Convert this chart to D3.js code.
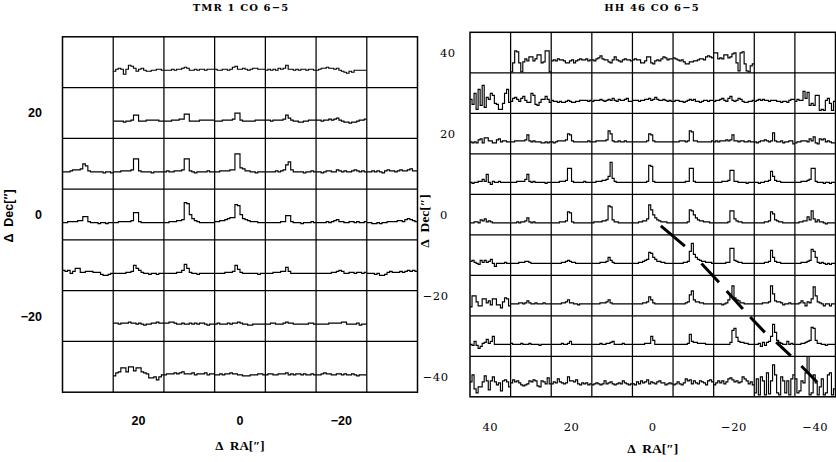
<!DOCTYPE html>
<html><head><meta charset="utf-8">
<script src="https://cdn.jsdelivr.net/npm/d3@7"></script>
<style>body{margin:0;background:#fff}svg{display:block}</style>
</head><body>
<script>
// ---------------- TMR 1 CO 6-5 ----------------
const tmrTitle = "TMR 1 CO 6\u22125";
const tmrRA = [30,20,10,0,-10,-20,-30];
const tmrDec = [30,20,10,0,-10,-20,-30];
const tmrRATicks = [20,0,-20];
const tmrDecTicks = [20,0,-20];
const tmrRow30 = [null,
 [-1,1,2,1,-4,1,5,4,2,-1,1,2,0,-1,-1,0,0,1,1,0],
 [0,0,0,1,0,1,1,2,3,2,0,0,1,0,1,1,0,1,1,1],
 [1,0,0,1,1,0,1,3,4,1,1,2,1,0,1,2,2,1,1,1],
 [0,1,0,1,0,2,1,2,5,1,1,0,1,0,1,1,0,1,1,0],
 [0,1,2,2,3,2,2,1,2,0,-1,-2,-3,-1,-2,0,0,0,0,0],
 null];
const tmrRow20 = [null,
 [0,0,0,0,-1,0,0,1,6,6,0,0,0,1,1,1,1,1,0,0],
 [0,0,0,1,1,1,2,2,7,7,0,0,0,0,1,1,1,1,1,1],
 [0,0,0,1,1,1,1,2,8,8,1,0,0,0,0,0,1,1,1,1],
 [1,1,0,1,1,1,1,2,6,3,1,0,0,-1,-1,0,0,1,1,1],
 [1,1,0,1,1,2,1,2,3,1,0,-1,-1,-2,-1,-1,0,1,1,2],
 null];
const tmrRow10 = [
 [0,0,0,1,2,2,2,3,8,6,1,0,0,0,0,0,-1,0,0,-1],
 [0,0,0,1,1,1,1,2,13,13,1,0,0,0,0,-1,0,0,0,0],
 [0,1,0,0,1,1,1,2,13,13,1,0,-1,0,0,0,0,1,0,0],
 [0,0,1,1,1,1,2,2,18,18,4,3,1,1,0,0,-1,0,0,0],
 [0,0,0,0,1,0,1,2,7,10,2,0,0,0,0,-1,0,0,1,0],
 [0,0,-1,0,1,1,0,0,2,1,0,1,0,0,1,2,1,0,1,0],
 [0,0,1,0,1,0,-1,1,2,1,1,0,1,2,1,1,2,3,1,1]];
const tmrRow0 = [
 [0,0,1,1,1,1,2,2,6,6,1,0,0,0,-1,0,0,-1,0,0],
 [0,0,1,1,1,1,1,2,10,10,1,0,0,0,0,0,0,0,0,0],
 [0,0,1,1,1,2,2,3,20,19,8,4,2,1,0,0,0,0,0,0],
 [1,1,2,2,3,4,5,5,18,17,8,4,3,2,1,1,1,0,0,0],
 [0,0,0,0,0,0,1,1,7,7,1,0,0,0,-1,0,0,0,1,0],
 [0,0,0,0,1,0,1,2,3,1,1,0,0,1,1,0,1,0,0,1],
 [0,0,-1,-1,0,-1,0,0,1,1,1,1,2,2,1,3,4,3,2,1]];
const tmrRowM10 = [
 [3,2,3,0,2,5,5,1,1,2,2,2,1,1,1,-1,-2,-2,-1,0],
 [0,0,0,0,0,1,1,2,8,5,3,1,0,0,-1,0,0,-1,0,0],
 [0,0,0,0,0,1,1,3,9,5,1,0,0,-1,0,0,0,0,0,0],
 [0,0,0,0,1,1,1,2,8,4,1,0,0,0,0,0,0,-1,0,0],
 [0,0,0,1,1,1,2,2,6,2,0,0,0,0,0,0,0,0,0,0],
 [0,0,0,0,0,0,1,1,2,3,2,0,0,1,1,0,1,1,0,1],
 [0,0,0,-1,0,-2,-2,-1,1,2,1,1,1,2,1,2,3,2,3,2]];
const tmrRowM20 = [null,
 [1,1,0,1,1,1,2,1,1,0,1,0,-1,0,0,1,1,2,1,1],
 [1,1,2,2,1,0,0,1,0,0,1,0,1,0,1,1,0,-1,0,0],
 [0,1,0,0,0,1,0,1,1,2,1,0,0,-1,-1,0,0,0,0,0],
 [0,0,1,1,0,0,0,1,2,1,1,0,0,0,0,0,0,1,1,0],
 [0,0,0,0,0,1,1,1,1,1,2,2,0,0,0,0,1,-1,0,0],
 null];
const tmrRowM30 = [null,
 [-1,2,3,7,7,3,8,8,4,7,7,3,2,1,-3,-3,-2,-5,-2,0],
 [0,1,1,1,2,1,2,3,1,1,1,2,0,1,1,1,2,0,1,1],
 [0,0,1,0,1,1,2,1,1,0,0,-1,-1,-1,0,0,0,1,1,0],
 [0,1,1,0,0,1,1,1,2,0,1,0,1,1,0,1,0,0,1,0],
 [0,0,1,2,1,1,0,0,1,1,0,1,0,0,1,0,-1,0,0,0],
 null];

// ---------------- HH 46 CO 6-5 ----------------
const hhTitle = "HH 46 CO 6\u22125";
const hhRA = [40,30,20,10,0,-10,-20,-30,-40];
const hhDec = [40,30,20,10,0,-10,-20,-30,-40];
const hhRATicks = [40,20,0,-20,-40];
const hhDecTicks = [40,20,0,-20,-40];
const hhRow40 = [null,
 [-11,-2,10,9,-2,-11,-1,2,0,4,4,0,2,6,6,-2,-1,10,10,-11],
 [0,1,0,2,1,1,0,-2,-2,0,1,-2,0,1,2,1,1,2,0,1],
 [1,0,2,3,5,2,1,1,-1,-2,1,4,1,0,-1,1,2,1,1,0],
 [1,2,1,1,-2,-2,0,4,4,-2,-3,0,1,0,2,4,3,1,2,2],
 [3,2,1,0,1,-1,-3,-3,-1,-1,0,0,1,2,2,1,4,5,4,3],
 [8,8,2,3,2,6,6,3,4,7,8,-2,-10,8,9,-3,-10,-11,-5,-3],
 null, null];
const hhRow30 = [
 [2,-3,8,-8,12,-4,16,-6,4,2,8,6,-2,-3,-8,-8,-2,8,12,-1],
 [0,3,4,2,0,3,5,1,-1,-1,8,6,-3,-4,-1,2,2,5,2,-1],
 [1,0,0,-1,0,-1,-1,0,1,0,-1,-1,0,0,1,1,1,1,0,1],
 [0,1,1,1,2,1,0,1,2,1,3,1,0,2,1,1,2,3,0,0],
 [1,1,1,0,1,1,2,2,3,1,2,4,2,1,1,2,1,0,1,0],
 [0,1,1,0,0,-1,0,1,2,1,2,0,0,-1,0,1,1,0,1,1],
 [0,1,1,2,3,1,0,3,5,1,0,1,3,2,0,-1,-1,0,0,1],
 [0,1,2,1,2,1,1,0,1,1,1,0,0,-1,0,0,-1,1,2,2],
 [0,2,1,1,10,3,9,-4,-2,-4,6,6,-9,-8,-9,1,3,-2,-9,0]];
const hhRow20 = [
 [0,-1,0,-1,2,3,-1,4,4,1,1,-1,-1,2,3,0,1,1,0,0],
 [0,0,1,1,1,1,1,2,7,1,0,1,0,0,0,-1,-1,0,-1,0],
 [0,-1,0,1,1,1,1,2,8,7,1,0,0,0,0,0,0,0,1,0],
 [0,0,1,1,1,1,1,2,11,8,1,0,0,1,0,0,1,0,0,0],
 [0,0,0,0,0,0,0,1,8,7,1,0,0,0,0,0,0,0,0,0],
 [0,0,0,1,1,1,0,1,11,10,1,1,0,0,0,0,0,0,0,1],
 [0,1,0,1,1,1,2,1,2,7,1,1,0,1,1,0,0,1,0,0],
 [0,-1,0,1,1,2,1,0,1,9,1,0,0,1,-1,0,0,1,1,-2],
 [-1,0,0,1,1,1,0,3,1,5,-1,-2,3,2,3,0,1,0,-1,-1]];
const hhRow10 = [
 [0,-1,0,0,1,1,3,1,8,0,-2,1,0,0,1,0,0,0,0,0],
 [0,0,0,1,1,1,1,3,8,1,0,1,0,0,0,0,0,-1,0,0],
 [0,0,0,0,1,1,1,2,14,14,1,0,0,0,0,0,1,0,0,0],
 [0,0,1,1,1,2,2,3,6,20,4,1,0,0,0,0,0,0,0,0],
 [0,0,0,0,0,0,0,1,17,16,1,0,0,0,0,0,0,0,0,0],
 [0,0,0,0,0,0,1,1,14,14,1,0,0,0,0,0,0,0,0,0],
 [0,0,0,0,1,1,1,2,12,12,1,1,0,0,0,0,-1,0,0,0],
 [0,0,-1,0,0,1,1,2,11,6,2,1,1,0,0,0,0,0,0,0],
 [0,0,0,1,1,1,2,3,14,14,1,0,0,0,-1,0,0,-1,0,0]];
const hhRow0 = [
 [0,0,1,1,0,3,2,4,1,2,1,0,0,0,0,0,0,0,0,0],
 [0,0,0,1,0,1,1,2,5,1,0,1,0,0,0,0,0,0,0,0],
 [0,0,0,0,1,1,1,2,11,10,1,0,0,0,0,0,0,0,0,0],
 [0,1,1,1,1,2,2,3,17,16,3,1,1,0,0,0,0,0,0,0],
 [0,0,0,1,1,2,2,4,18,13,8,5,3,2,1,1,1,0,0,0],
 [0,0,0,0,0,0,0,1,13,12,8,5,3,2,2,1,1,1,0,0],
 [0,0,0,0,0,0,0,1,12,12,4,2,1,1,0,0,0,0,0,0],
 [0,0,0,0,0,1,1,2,11,9,3,2,1,1,0,0,0,0,0,0],
 [0,0,1,1,2,2,6,3,12,4,1,3,1,1,0,-1,0,0,0,0]];
const hhRowM10 = [
 [2,3,1,0,-1,3,1,3,1,2,4,0,-3,0,0,0,0,1,0,0],
 [0,0,0,0,1,1,1,2,2,1,0,0,0,0,0,0,0,0,0,0],
 [0,0,0,0,0,1,1,2,3,2,1,1,0,0,0,0,0,0,0,0],
 [0,0,0,0,1,1,1,2,6,3,1,0,0,0,0,0,0,0,0,0],
 [0,0,0,1,1,2,3,4,11,10,6,4,2,2,1,1,0,0,0,0],
 [0,0,0,0,0,1,1,2,12,20,9,6,4,3,2,2,1,1,1,0],
 [0,0,0,0,0,0,1,1,15,15,3,2,1,1,0,0,0,0,0,0],
 [0,0,0,0,0,1,1,2,13,6,2,1,1,0,0,0,0,0,0,0],
 [0,0,0,1,1,1,2,3,14,12,6,1,0,1,0,-1,0,-1,0,0]];
const hhRowM20 = [
 [-3,8,8,2,-2,-2,5,5,1,3,-1,5,5,-1,-1,-4,2,6,5,-2],
 [0,0,0,0,1,1,0,1,3,1,0,0,1,0,0,0,1,0,0,0],
 [0,0,0,0,0,1,1,2,4,1,1,0,0,-1,0,0,0,0,0,0],
 [0,0,0,0,1,1,1,2,4,1,0,0,0,0,0,0,0,0,0,0],
 [0,0,0,0,0,1,1,2,7,4,1,0,0,0,0,0,0,0,0,0],
 [0,0,0,0,0,0,1,2,9,13,4,2,2,1,1,0,0,0,0,0],
 [0,0,0,0,-1,0,1,4,9,18,6,4,3,1,1,0,0,0,0,0],
 [0,0,0,0,1,1,1,2,18,10,3,2,2,1,-1,0,0,1,0,0],
 [0,0,1,3,1,-2,2,1,5,17,8,2,1,0,-2,0,0,-2,0,0]];
const hhRowM30 = [
 [0,-1,3,-1,-4,-2,1,2,5,1,3,8,0,0,0,0,0,0,0,0],
 [1,0,0,0,0,1,0,0,0,1,0,0,0,0,-1,0,0,0,0,0],
 [0,0,0,0,0,1,0,0,1,3,0,0,0,0,0,0,0,0,0,0],
 [0,0,0,0,1,0,0,1,1,2,3,0,0,0,0,1,0,0,0,0],
 [0,0,0,0,0,0,1,1,1,8,4,0,0,0,0,0,0,0,0,0],
 [0,0,0,0,0,0,0,1,10,3,2,2,1,1,1,1,0,0,0,0],
 [0,0,0,0,0,0,0,0,2,14,16,7,3,2,2,1,1,0,0,0],
 [0,0,1,-2,2,-1,2,3,8,20,12,4,2,1,0,0,3,0,1,0],
 [0,0,0,1,1,2,3,4,17,16,4,1,1,0,0,-1,0,0,0,0]];
const hhRowM40 = [
 [3,10,-4,-8,-2,-2,3,9,4,-5,4,8,3,0,2,-6,4,5,3,-2],
 [2,5,3,4,2,0,-1,0,1,4,3,5,4,-1,-2,4,3,1,7,1],
 [1,3,2,6,3,2,1,2,8,4,4,3,5,1,0,2,1,2,0,1],
 [0,1,2,1,0,1,4,1,2,3,1,0,1,2,1,4,2,1,0,1],
 [1,0,3,1,4,2,3,5,1,3,2,1,3,4,2,2,0,1,2,1],
 [0,1,3,1,0,2,6,4,5,1,4,2,1,4,3,2,0,4,5,3],
 [0,2,4,2,4,1,3,6,7,5,3,4,2,3,8,6,4,1,3,0],
 [-8,6,-10,8,4,-10,12,-9,4,20,10,-8,-10,8,4,-8,4,-10,6,10],
 [6,-8,-6,4,2,12,30,-10,-8,10,2,-10,-2,6,-10,-8,10,12,-10,-4]];
// outflow axis dashes: [RA1, Dec1, RA2, Dec2]
const hhOutflow = [
 [-2.0,-2.8,-7.9,-7.8],
 [-12.0,-12.1,-16.3,-16.7],
 [-18.2,-18.9,-22.2,-23.3],
 [-24.0,-25.3,-27.6,-29.1],
 [-30.4,-31.5,-34.0,-34.9],
 [-36.6,-37.4,-40.5,-41.4]];

const W = 836, H = 462;
const svg = d3.select("body").append("svg").attr("width", W).attr("height", H)
  .style("font-kerning","normal");
const defs = svg.append("defs");
let clipId = 0;

function drawPanel(cfg) {
  const g = svg.append("g");
  const step = 10;
  const raMax = cfg.ra[0] + step/2, raMin = cfg.ra[cfg.ra.length-1] - step/2;
  const decMax = cfg.dec[0] + step/2, decMin = cfg.dec[cfg.dec.length-1] - step/2;
  const x = d3.scaleLinear().domain([raMax, raMin]).range([cfg.box[0], cfg.box[1]]);
  const y = d3.scaleLinear().domain([decMax, decMin]).range([cfg.box[2], cfg.box[3]]);

  // spectra
  const line = d3.line().curve(d3.curveStepAfter);
  cfg.rows.forEach((row, i) => {
    const dec = cfg.dec[i];
    row.forEach((vals, j) => {
      if (!vals) return;
      const ra = cfg.ra[j];
      const cx0 = x(ra + step/2), cx1 = x(ra - step/2);
      const cy0 = y(dec + step/2), cy1 = y(dec - step/2);
      const id = "clip" + (clipId++);
      defs.append("clipPath").attr("id", id).append("rect")
        .attr("x", cx0).attr("y", cy0).attr("width", cx1 - cx0).attr("height", cy1 - cy0);
      const n = vals.length;
      const ch = d3.scaleLinear().domain([0, n]).range([cx0, cx1]);
      const iv = d3.scaleLinear().domain(cfg.vRange).range([cy1, cy0]);
      const pts = vals.map((v, k) => [ch(k), iv(v)]);
      pts.push([ch(n), iv(vals[n-1])]);
      g.append("path").attr("d", line(pts)).attr("clip-path", `url(#${id})`)
        .attr("fill", "none").attr("stroke", "#000").attr("stroke-width", 1.15);
    });
  });

  // grid
  const raEdges = d3.range(cfg.ra.length + 1).map(k => raMax - k*step);
  const decEdges = d3.range(cfg.dec.length + 1).map(k => decMax - k*step);
  g.selectAll(null).data(raEdges.slice(1, -1)).join("line")
    .attr("x1", d => x(d)).attr("x2", d => x(d))
    .attr("y1", y(decMax)).attr("y2", y(decMin))
    .attr("stroke", "#000").attr("stroke-width", 1.25);
  g.selectAll(null).data(decEdges.slice(1, -1)).join("line")
    .attr("y1", d => y(d)).attr("y2", d => y(d))
    .attr("x1", x(raMax)).attr("x2", x(raMin))
    .attr("stroke", "#000").attr("stroke-width", 1.25);
  g.append("rect").attr("x", x(raMax)).attr("y", y(decMax))
    .attr("width", x(raMin) - x(raMax)).attr("height", y(decMin) - y(decMax))
    .attr("fill", "none").attr("stroke", "#000").attr("stroke-width", 1.5);

  // outflow
  if (cfg.dashes) {
    g.selectAll(null).data(cfg.dashes).join("line")
      .attr("x1", d => x(d[0])).attr("y1", d => y(d[1]))
      .attr("x2", d => x(d[2])).attr("y2", d => y(d[3]))
      .attr("stroke", "#000").attr("stroke-width", 3);
  }

  const fmt = v => v < 0 ? "\u2212" + Math.abs(v) : String(v);
  // x ticks
  g.selectAll(null).data(cfg.raTicks).join("text")
    .attr("x", d => x(d)).attr("y", cfg.xTickY)
    .attr("text-anchor", "middle").style("font", cfg.tickFont)
    .style("letter-spacing", cfg.tickLS || "0px")
    .text(fmt);
  // y ticks
  g.selectAll(null).data(cfg.decTicks).join("text")
    .attr("x", d => cfg.yTickX(d)).attr("y", d => y(d) + 4.5)
    .attr("text-anchor", d => cfg.yTickAnchor(d)).style("font", cfg.tickFont)
    .style("letter-spacing", cfg.tickLS || "0px")
    .text(fmt);
  // title
  g.append("text").attr("x", cfg.titleX).attr("y", cfg.titleY)
    .attr("text-anchor", "middle").style("font", cfg.titleFont)
    .style("letter-spacing", cfg.titleLS).text(cfg.title);
  // axis labels
  g.append("text").attr("x", x(0)).attr("y", cfg.xLabelY)
    .attr("text-anchor", "middle").style("font", cfg.xLabelFont)
    .style("white-space", "pre")
    .text("\u0394\u00A0\u00A0RA[\u2033]");
  g.append("text").attr("transform", `translate(${cfg.yLabelX},${cfg.yLabelY}) rotate(-90)`)
    .attr("text-anchor", "middle").style("font", cfg.yLabelFont)
    .style("white-space", "pre")
    .text("\u0394\u00A0\u00A0Dec[\u2033]");
}

drawPanel({
  ra: tmrRA, dec: tmrDec,
  rows: [tmrRow30, tmrRow20, tmrRow10, tmrRow0, tmrRowM10, tmrRowM20, tmrRowM30],
  box: [62.5, 417.5, 36.8, 392.2], vRange: [-17.3, 33.5],
  raTicks: tmrRATicks, decTicks: tmrDecTicks,
  tickFont: "bold 12.5px 'Liberation Sans', Arial, sans-serif",
  xTickY: 424.5, yTickX: d => 42, yTickAnchor: d => "end",
  title: tmrTitle, titleX: 241, titleY: 10.5,
  titleFont: "bold 10px 'DejaVu Serif', serif", titleLS: "1.1px",
  xLabelY: 450, xLabelFont: "bold 13px 'Liberation Serif', serif",
  yLabelX: 12.5, yLabelY: 216, yLabelFont: "bold 12.5px 'Liberation Sans', sans-serif"
});

drawPanel({
  ra: hhRA, dec: hhDec,
  rows: [hhRow40, hhRow30, hhRow20, hhRow10, hhRow0, hhRowM10, hhRowM20, hhRowM30, hhRowM40],
  box: [470, 835.5, 32.3, 396.8], vRange: [-12, 28.5],
  raTicks: hhRATicks, decTicks: hhDecTicks, dashes: hhOutflow,
  tickFont: "11.5px 'DejaVu Serif', serif", tickLS: "0.5px",
  xTickY: 431, yTickX: d => d < 0 ? 448.5 : 440, yTickAnchor: d => d < 0 ? "end" : "start",
  title: hhTitle, titleX: 652, titleY: 10.5,
  titleFont: "bold 10px 'DejaVu Serif', serif", titleLS: "1.1px",
  xLabelY: 453, xLabelFont: "bold 13.5px 'Liberation Serif', serif",
  yLabelX: 429, yLabelY: 221, yLabelFont: "bold 13.5px 'Liberation Serif', serif"
});
</script>
</body></html>
